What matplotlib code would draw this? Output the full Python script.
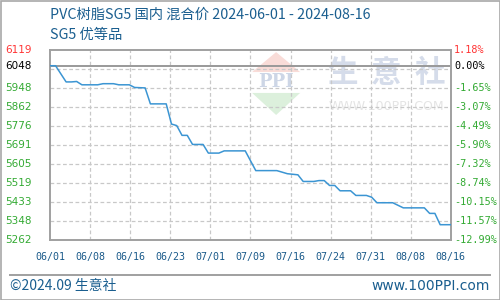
import matplotlib
matplotlib.use("Agg")
import matplotlib.pyplot as plt
from matplotlib.patches import Polygon
from matplotlib.lines import Line2D
import pandas as pd
import numpy as np

plt.rcParams['font.family'] = ['Noto Sans CJK SC', 'DejaVu Sans']

# ---- data ----
dates = ["2024-06-01", "2024-06-02", "2024-06-04", "2024-06-05", "2024-06-06", "2024-06-07",
         "2024-06-10", "2024-06-11", "2024-06-13", "2024-06-14", "2024-06-16", "2024-06-17",
         "2024-06-19", "2024-06-20", "2024-06-23", "2024-06-24", "2024-06-25", "2024-06-26",
         "2024-06-27", "2024-06-28", "2024-06-30", "2024-07-01", "2024-07-03", "2024-07-04",
         "2024-07-08", "2024-07-10", "2024-07-14", "2024-07-15", "2024-07-16", "2024-07-18",
         "2024-07-19", "2024-07-21", "2024-07-22", "2024-07-23", "2024-07-24", "2024-07-25",
         "2024-07-26", "2024-07-28", "2024-07-29", "2024-07-31", "2024-08-01", "2024-08-02",
         "2024-08-05", "2024-08-07", "2024-08-11", "2024-08-12", "2024-08-13", "2024-08-14",
         "2024-08-16"]
prices = [6048, 6048, 5975, 5975, 5977, 5962,
          5962, 5967, 5967, 5962, 5962, 5950,
          5948, 5876, 5876, 5785, 5778, 5734,
          5734, 5693, 5693, 5654, 5654, 5664,
          5664, 5575, 5575, 5568, 5561, 5556,
          5526, 5526, 5530, 5530, 5508, 5508,
          5484, 5484, 5463, 5463, 5455, 5430,
          5430, 5407, 5407, 5382, 5382, 5331,
          5331]
base_value = 6048
y_ticks = [6119, 6048, 5948, 5862, 5776, 5691, 5605, 5519, 5433, 5348, 5262]
y_grid = [6119, 6033.3, 5948, 5862, 5776, 5691, 5605, 5519, 5433, 5348, 5262]
pct_labels = ["1.18%", "0.00%", "-1.65%", "-3.07%", "-4.49%", "-5.90%", "-7.32%",
              "-8.74%", "-10.15%", "-11.57%", "-12.99%"]
x_labels = ["06/01", "06/08", "06/16", "06/23", "07/01", "07/09", "07/16",
            "07/24", "07/31", "08/08", "08/16"]
title = "PVC树脂SG5 国内 混合价 2024-06-01 - 2024-08-16"
subtitle = "SG5 优等品"

# ---- derived ----
d = pd.to_datetime(dates)
days = (d - d[0]).days.values.astype(float)
total = days[-1]
x_ticks = np.linspace(0, total, len(x_labels))
y_min, y_max = 5262, 6119

fig = plt.figure(figsize=(5, 3), dpi=100)
fig.patch.set_facecolor("white")
ax = fig.add_axes([50.3 / 500, 1 - 240 / 300, 400.4 / 500, 190 / 300])
ax.set_xlim(0, total)
ax.set_ylim(y_min, y_max)

# watermark
ax.add_patch(Polygon([(0.504, 0.884), (0.624, 0.884), (0.564, 0.989)], closed=True,
                     transform=ax.transAxes, facecolor="#f9dcd8", edgecolor="none", zorder=0.5))
ax.add_patch(Polygon([(0.504, 0.774), (0.624, 0.774), (0.564, 0.658)], closed=True,
                     transform=ax.transAxes, facecolor="#dcf0dc", edgecolor="none", zorder=0.5))
ax.text(0.564, 0.83, "PPI", transform=ax.transAxes, ha="center", va="center",
        fontsize=13, fontweight="bold", family="DejaVu Serif", color="#cdd6e6", zorder=0.6)
for cx, ch in zip([0.729, 0.838, 0.948], "生意社"):
    ax.text(cx, 0.88, ch, transform=ax.transAxes, ha="center", va="center",
            fontsize=22, fontweight="bold", color="#d5dcea", zorder=0.6)
ax.text(0.840, 0.705, "WWW.100PPI.COM", transform=ax.transAxes, ha="center", va="center",
        fontsize=9, family="DejaVu Sans", color="#e4e4e4", zorder=0.6)

# grid
for gy in y_grid[1:-1]:
    ax.axhline(gy, color="#c8c8c8", lw=0.9, ls=(0, (3, 2)), zorder=1)
for gx in x_ticks[1:-1]:
    ax.axvline(gx, color="#c8c8c8", lw=0.9, ls=(0, (3, 2)), zorder=1)
ax.axhline(base_value, color="#999999", lw=1.4, zorder=2)

ax.plot(days, prices, color="#3b95d3", lw=1.1, zorder=3)

for s in ax.spines.values():
    s.set_color("#a0a0a0")
    s.set_linewidth(1.4)

# tick labels
ax.set_yticks([])
ax.set_xticks([])
left_colors = ["#ff3333", "#000000"] + ["#33aa33"] * 9
for v, c in zip(y_ticks, left_colors):
    ax.text(-45.3 / 400.4, v, str(v), transform=ax.get_yaxis_transform(),
            ha="left", va="center", fontsize=7.5, family="DejaVu Sans", color=c)
for v, lab, c in zip(y_ticks, pct_labels, left_colors):
    ax.text(1 + 3.5 / 400.4, v, lab, transform=ax.get_yaxis_transform(),
            ha="left", va="center", fontsize=7.3, family="DejaVu Sans Mono", color=c)
for xv, lab in zip(x_ticks, x_labels):
    ax.text(xv, -17 / 190, lab, transform=ax.get_xaxis_transform(),
            ha="center", va="center", fontsize=7.2, family="DejaVu Sans Mono", color="#1a5a8a")

# titles
fig.text(50 / 500, 1 - 15 / 300, title, ha="left", va="center", fontsize=10.3, color="#1a5e8f")
fig.text(50 / 500, 1 - 35 / 300, subtitle, ha="left", va="center", fontsize=10.3, color="#1a5e8f")

# footer
fig.add_artist(Line2D([10 / 500, 490 / 500], [1 - 275 / 300, 1 - 275 / 300],
                      transform=fig.transFigure, color="#a0a0a0", lw=1.4))
fig.text(10 / 500, 1 - 286 / 300, "©2024.09 生意社", ha="left", va="center", fontsize=10, color="#1a5e8f")
fig.text(490 / 500, 1 - 286 / 300, "www.100PPI.com", ha="right", va="center", fontsize=10,
         family="DejaVu Sans", color="#1a5e8f")

# outer border
fig.add_artist(plt.Rectangle((0.5 / 500, 0.5 / 300), 499 / 500, 299 / 300, transform=fig.transFigure,
                             fill=False, edgecolor="#a8a8a8", lw=1.2))

fig.savefig("out.png", dpi=100)
